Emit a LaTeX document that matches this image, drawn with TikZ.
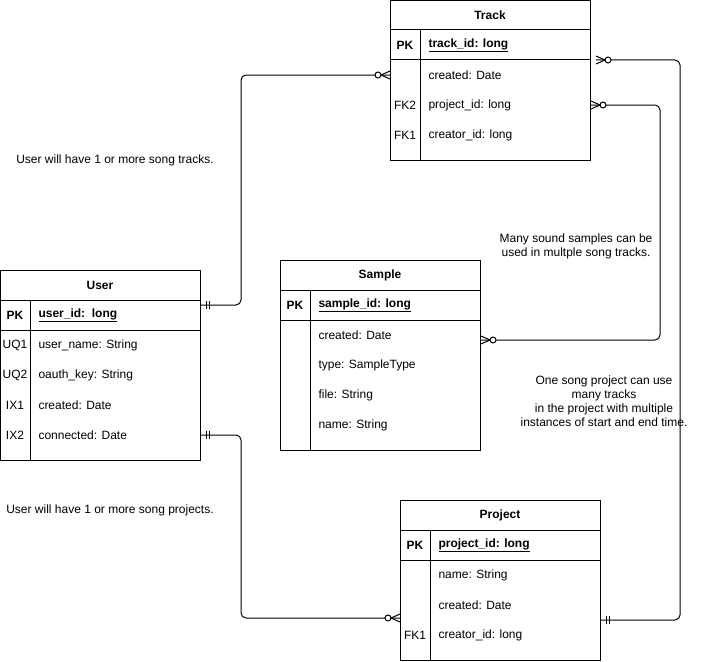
\documentclass[tikz,border=0pt]{standalone}
\usepackage{fontspec}
\setmainfont{Liberation Sans}

\begin{document}
\begin{tikzpicture}[x=1pt, y=-1pt, line width=1pt,
    font=\fontsize{12}{14}\selectfont,
    entity/.style={draw, anchor=north west, minimum width=200pt, inner sep=0pt},
    etitle/.style={font=\fontsize{12}{14}\selectfont\bfseries},
    pk/.style={font=\fontsize{12}{14}\selectfont\bfseries},
    keyname/.style={inner sep=0pt},
    field/.style={anchor=west, inner sep=0pt},
    pkfield/.style={field, font=\fontsize{12}{14}\selectfont\bfseries},
    note/.style={align=center, inner sep=0pt},
    link/.style={rounded corners=5pt},
    one/.pic={\draw (5,-4) -- (5,4) (8,-4) -- (8,4);},
    many/.pic={\draw (0,-4) -- (9,0) -- (0,4);
               \draw[fill=white] (12,0) circle (3);}
]
\useasboundingbox (0,0) rectangle (701,661);

% Track
\node[entity, minimum height=160pt] (track) at (390,0) {};
\node[etitle] (track-t) at (490,15) {Track};
\draw (390,30) -- (590,30) (390,60) -- (590,60) (420,30) -- (420,160);
\node[pk] (track-k0) at (405,45) {PK};
\node[pkfield] (track-f0) at (428,45) {\underline{track\_id: long}};
\node[field] (track-f1) at (428,75) {created: Date};
\node[keyname] (track-k2) at (405,105) {FK2};
\node[field] (track-f2) at (428,105) {project\_id: long};
\node[keyname] (track-k3) at (405,135) {FK1};
\node[field] (track-f3) at (428,135) {creator\_id: long};

% User
\node[entity, minimum height=190pt] (user) at (0,270) {};
\node[etitle] (user-t) at (100,285) {User};
\draw (0,300) -- (200,300) (0,330) -- (200,330) (30,300) -- (30,460);
\node[pk] (user-k0) at (15,315) {PK};
\node[pkfield] (user-f0) at (38,315) {\underline{user\_id:\ \ long}};
\node[keyname] (user-k1) at (15,345) {UQ1};
\node[field] (user-f1) at (38,345) {user\_name: String};
\node[keyname] (user-k2) at (15,375) {UQ2};
\node[field] (user-f2) at (38,375) {oauth\_key: String};
\node[keyname] (user-k3) at (15,405) {IX1};
\node[field] (user-f3) at (38,405) {created: Date};
\node[keyname] (user-k4) at (15,435) {IX2};
\node[field] (user-f4) at (38,435) {connected: Date};

% Sample
\node[entity, minimum height=190pt] (sample) at (280,260) {};
\node[etitle] (sample-t) at (380,275) {Sample};
\draw (280,290) -- (480,290) (280,320) -- (480,320) (310,290) -- (310,450);
\node[pk] (sample-k0) at (295,305) {PK};
\node[pkfield] (sample-f0) at (318,305) {\underline{sample\_id: long}};
\node[field] (sample-f1) at (318,335) {created: Date};
\node[field] (sample-f2) at (318,365) {type: SampleType};
\node[field] (sample-f3) at (318,395) {file: String};
\node[field] (sample-f4) at (318,425) {name: String};

% Project
\node[entity, minimum height=160pt] (project) at (400,500) {};
\node[etitle] (project-t) at (500,515) {Project};
\draw (400,530) -- (600,530) (400,560) -- (600,560) (430,530) -- (430,660);
\node[pk] (project-k0) at (415,545) {PK};
\node[pkfield] (project-f0) at (438,545) {\underline{project\_id: long}};
\node[field] (project-f1) at (438,575) {name: String};
\node[field] (project-f2) at (438,605) {created: Date};
\node[keyname] (project-k3) at (415,635) {FK1};
\node[field] (project-f3) at (438,635) {creator\_id: long};

% connector ends
\coordinate (user-a) at ([yshift=-35pt]user.north east);
\coordinate (user-b) at (user.east |- user-f4.west);
\coordinate (track-a) at (track.west |- track-f1.west);
\coordinate (track-b) at ([xshift=5pt, yshift=-60pt]track.north east);
\coordinate (track-c) at (track.east |- track-f2.west);
\coordinate (sample-a) at ([yshift=-80pt]sample.north east);
\coordinate (project-a) at ([yshift=-118pt]project.north west);
\coordinate (project-b) at ([yshift=-120pt]project.north east);

\draw[link] (user-a) -- ++(40,0) |- (track-a);
\draw[link] (user-b) -- ++(40,0) |- (project-a);
\draw[link] (track-b) -- (680,60) |- (project-b);
\draw[link] (track-c) -- (660,105) |- (sample-a);

\pic at (user-a) {one};
\pic at (user-b) {one};
\pic[rotate=180] at (track-a) {many};
\pic at (track-b) {many};
\pic at (track-c) {many};
\pic at (sample-a) {many};
\pic[rotate=180] at (project-a) {many};
\pic at (project-b) {one};

% notes
\node[note] (note-tracks) at (115,160) {User will have 1 or more song tracks.};
\node[note] (note-samples) at (576,246) {Many sound samples can be\\used in multple song tracks.};
\node[note] (note-project) at (604,401) {One song project can use\\many tracks\\in the project with multiple\\instances of start and end time.};
\node[note] (note-projects) at (110,510) {User will have 1 or more song projects.};
\end{tikzpicture}
\end{document}
